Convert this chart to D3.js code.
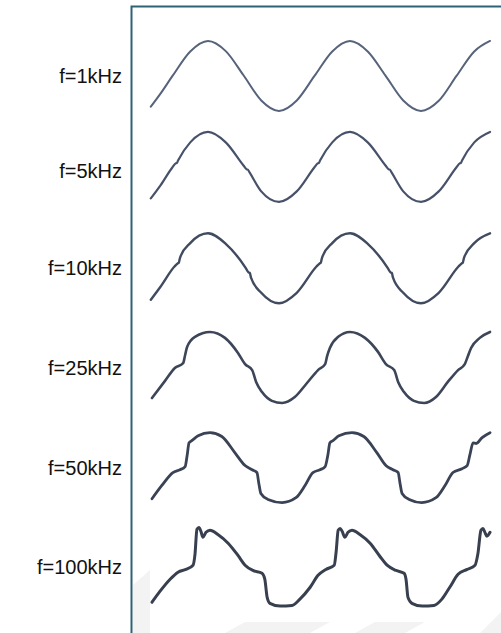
<!DOCTYPE html>
<html>
<head>
<meta charset="utf-8">
<script src="https://cdn.jsdelivr.net/npm/d3@7/dist/d3.min.js"></script>
<style>
  body { margin: 0; background: #fff; }
  svg { display: block; }
</style>
</head>
<body>
<script>
// trace labels and vertical position of each trace (in amplitude units)
var labels = ["f=1kHz", "f=5kHz", "f=10kHz", "f=25kHz", "f=50kHz", "f=100kHz"];
var offsets = [5.5, 2.9, 0, -2.85, -5.7, -8.55];

// [phase (deg), normalized amplitude]
var wave1 = [[35,-0.88],[60,-0.5],[90,0],[135,0.7],[180,1],[225,0.71],[270,0.02],[315,-0.7],[360,-1],[405,-0.7],[450,0],[495,0.7],[540,1],[585,0.7],[630,0.01],[675,-0.7],[720,-1],[765,-0.71],[810,0],[855,0.7],[895,1]];
var wave5 = [[35,-0.9],[60,-0.52],[90,-0.01],[98,0.1],[101,0.11],[104,0.18],[135,0.7],[180,1],[225,0.7],[270,0.04],[278,-0.07],[281,-0.08],[285,-0.15],[315,-0.7],[360,-1],[405,-0.7],[450,-0.01],[458,0.1],[461,0.11],[464,0.18],[495,0.7],[540,1],[585,0.7],[630,0.04],[638,-0.07],[641,-0.08],[645,-0.15],[675,-0.7],[720,-1],[765,-0.7],[810,-0.01],[818,0.1],[821,0.11],[824,0.18],[855,0.7],[895,1]];
var wave10 = [[35,-0.9],[60,-0.52],[95,0.05],[103,0.14],[106,0.16],[109,0.3],[135,0.72],[180,1],[225,0.7],[275,0.02],[283,-0.12],[286,-0.13],[289,-0.27],[315,-0.7],[360,-1],[405,-0.7],[455,0.05],[463,0.14],[466,0.16],[469,0.3],[495,0.72],[540,1],[585,0.7],[635,0.02],[643,-0.12],[646,-0.13],[649,-0.27],[675,-0.7],[720,-1],[765,-0.7],[815,0.05],[823,0.14],[826,0.16],[829,0.3],[855,0.72],[895,1]];
var wave25 = [[38,-0.86],[71,-0.37],[96,0],[117,0.14],[122,0.37],[127,0.6],[147,0.89],[185,1.03],[223,0.86],[256,0.43],[274,0.11],[292,-0.06],[302,-0.4],[317,-0.69],[342,-0.94],[368,-1],[400,-0.83],[431,-0.43],[459,-0.06],[477,0.11],[482,0.34],[489,0.57],[510,0.89],[540,1.03],[578,0.86],[611,0.46],[631,0.11],[652,-0.06],[662,-0.4],[677,-0.69],[702,-0.94],[728,-1],[758,-0.83],[788,-0.4],[814,-0.06],[831,0.11],[839,0.34],[847,0.57],[869,0.86],[895,1.03]];
var wave50 = [[38,-0.89],[63,-0.51],[91,-0.14],[109,-0.06],[122,0.03],[127,0.34],[132,0.71],[139,0.77],[155,0.91],[185,1],[215,0.89],[248,0.43],[274,0.06],[292,-0.06],[304,-0.14],[309,-0.46],[314,-0.74],[332,-0.91],[368,-1],[403,-0.86],[426,-0.51],[446,-0.14],[464,-0.06],[477,0.03],[484,0.37],[489,0.71],[497,0.77],[512,0.91],[545,1],[575,0.89],[608,0.43],[631,0.06],[649,-0.06],[662,-0.14],[667,-0.46],[672,-0.74],[690,-0.91],[722,-1],[758,-0.86],[781,-0.51],[801,-0.14],[824,-0.03],[837,0.06],[844,0.37],[852,0.71],[860,0.69],[875,0.86],[895,1]];
var wave100 = [[38,-1],[58,-0.69],[84,-0.34],[104,-0.14],[124,-0.06],[142,0.06],[147,0.37],[152,1.09],[157,1.14],[162,1.03],[167,0.86],[175,1],[185,1.06],[205,0.94],[231,0.69],[256,0.34],[274,0.06],[294,-0.09],[317,-0.17],[324,-0.34],[330,-0.86],[337,-1.03],[363,-1.11],[393,-1.09],[413,-0.91],[439,-0.57],[459,-0.23],[479,-0.06],[500,0.06],[505,0.46],[510,1.06],[515,1.11],[520,1.03],[527,0.86],[535,1],[545,1.06],[565,0.94],[591,0.69],[616,0.31],[634,0.06],[657,-0.09],[677,-0.17],[682,-0.34],[687,-0.86],[697,-1.03],[723,-1.11],[753,-1.09],[773,-0.91],[793,-0.57],[814,-0.2],[837,-0.06],[857,0.06],[864,0.37],[872,1.06],[877,1.11],[882,1],[887,0.89],[895,1]];

var waves = [wave1, wave5, wave10, wave25, wave50, wave100];

var width = 501, height = 633;

var svg = d3.select("body").append("svg")
    .attr("width", width)
    .attr("height", height);

// faint watermark bands at the bottom
var marks = [
  [[133,633],[133,585],[150,570],[150,633]],
  [[225,633],[245,622],[330,622],[310,633]],
  [[355,633],[375,622],[425,622],[405,633]],
  [[480,633],[501,612],[501,633]]
];
svg.selectAll("polygon.wm").data(marks).enter().append("polygon")
    .attr("class", "wm")
    .attr("points", function(d){ return d.join(" "); })
    .attr("fill", "#f3f3f3");

var x = d3.scaleLinear().domain([0, 900]).range([137, 492]);
var y = d3.scaleLinear().domain([-10.4, 7.5]).range([632, 6]);

// frame, left and top only
svg.append("path")
    .attr("d", "M131.5," + height + "V6.5H" + width)
    .attr("fill", "none")
    .attr("stroke", "#2e6275")
    .attr("stroke-width", 2);

var strokeW = d3.scaleLinear().domain([0, 5]).range([2, 3]);
var strokeC = ["#56637a", "#47526a", "#414b60", "#3c4658", "#3a4355", "#384050"];

waves.forEach(function(w, i){
  var line = d3.line()
      .x(function(d){ return x(d[0]); })
      .y(function(d){ return y(d[1] + offsets[i]); })
      .curve(d3.curveMonotoneX);
  svg.append("path")
      .datum(w)
      .attr("d", line)
      .attr("fill", "none")
      .attr("stroke", strokeC[i])
      .attr("stroke-width", strokeW(i))
      .attr("stroke-linejoin", "round")
      .attr("stroke-linecap", "round");
});

svg.selectAll("text.lbl").data(labels).enter().append("text")
    .attr("class", "lbl")
    .attr("x", 122)
    .attr("y", function(d, i){ return y(offsets[i]) + (i == 1 ? 4 : 0); })
    .attr("dy", "0.35em")
    .attr("text-anchor", "end")
    .attr("font-family", "Arial, 'Liberation Sans', sans-serif")
    .attr("font-size", 20)
    .attr("fill", "#111")
    .text(function(d){ return d; });
</script>
</body>
</html>
